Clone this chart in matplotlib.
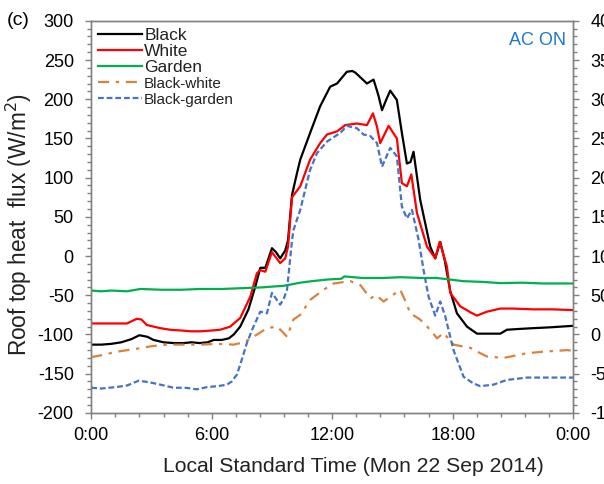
import matplotlib
matplotlib.use("Agg")
import matplotlib.pyplot as plt
from matplotlib.ticker import MultipleLocator, AutoMinorLocator, FixedLocator

plt.rcParams['font.family'] = ['Liberation Sans', 'DejaVu Sans']
plt.rcParams['axes.unicode_minus'] = False

# ---- data (hours of day, W/m2) ----
t_black = [0, 0.5, 1.0, 1.5, 2.0, 2.4, 2.8, 3.1, 3.6, 4.1, 4.6, 5.0, 5.4, 5.8, 6.1, 6.5, 6.85, 7.1,
           7.42, 7.83, 8.17, 8.42, 8.67, 9.0, 9.2, 9.41, 9.66, 9.8, 10.0, 10.24, 10.41, 10.9, 11.4,
           11.9, 12.24, 12.5, 12.73, 13.0, 13.15, 13.4, 13.73, 14.06, 14.3, 14.48, 14.7, 14.89,
           15.22, 15.47, 15.72, 15.9, 16.05, 16.38, 16.88, 17.13, 17.38, 17.6, 17.88, 18.21, 18.71,
           19.21, 19.8, 20.37, 20.7, 21.3, 22.0, 22.8, 23.4, 24.0]
v_black = [-113, -113, -112, -110, -106, -101, -103, -107, -110, -111, -111, -110, -111, -110, -107,
           -107, -105, -100, -90, -68, -39, -15, -15, 10, 5, -3, 7, 20, 78, 105, 123, 157, 191, 216,
           220, 228, 235, 236, 234, 228, 220, 225, 205, 186, 200, 211, 199, 157, 118, 120, 133, 72,
           12, -3, 18, -5, -45, -73, -90, -99, -99, -99, -94, -93, -92, -91, -90, -89]

t_white = [0, 1.0, 1.78, 2.27, 2.5, 2.77, 3.44, 3.93, 4.5, 5.0, 5.43, 6.0, 6.42, 6.92, 7.42, 7.92,
           8.25, 8.42, 8.67, 9.0, 9.41, 9.66, 9.8, 10.0, 10.41, 10.9, 11.4, 11.74, 12.24, 12.65,
           13.23, 13.73, 14.03, 14.23, 14.39, 14.6, 14.81, 15.22, 15.47, 15.72, 15.94, 16.22, 16.72,
           17.13, 17.35, 17.71, 17.88, 18.37, 18.9, 19.21, 19.7, 20.37, 21.0, 22.0, 23.0, 24.0]
v_white = [-86, -86, -86, -80, -81, -88, -92, -94, -95, -96, -96, -95, -94, -90, -79, -52, -22, -18,
           -20, 5, -9, -3, 12, 75, 89, 123, 144, 155, 159, 167, 169, 167, 182, 165, 144, 155, 166,
           150, 93, 89, 104, 55, 12, -3, 18, -13, -47, -64, -72, -76, -71, -67, -67, -68, -68, -69]

t_garden = [0, 0.5, 1.0, 1.78, 2.45, 3.5, 4.5, 5.43, 6.5, 7.5, 8.5, 9.0, 9.58, 10.0, 10.41, 11.0,
            11.74, 12.05, 12.45, 12.6, 13.5, 14.5, 15.4, 16.5, 17.2, 17.88, 18.5, 19.5, 20.37,
            21.5, 22.5, 23.85, 24.0]
v_garden = [-44, -45, -44, -45, -42, -43, -43, -42, -42, -41, -40, -39, -38, -36, -34, -32, -30,
            -29.5, -29, -26, -28, -28, -27, -28, -28, -30, -32, -33, -34.5, -34, -35, -35, -35]

# differences, read on the right-hand axis
t_bw = [0, 0.6, 1.28, 2.45, 3.0, 3.77, 4.5, 5.43, 6.3, 7.09, 7.6, 8.08, 8.75, 9.25, 9.5, 9.75, 10.07,
        10.41, 10.9, 11.57, 12.07, 12.9, 13.4, 13.9, 14.2, 14.56, 15.0, 15.39, 15.6, 15.89, 16.38,
        16.88, 17.22, 17.55, 18.04, 18.87, 19.3, 19.7, 20.53, 21.1, 21.7, 22.5, 23.7, 24.0]
v_bw = [-29, -26, -22, -17.5, -15, -13, -13, -13, -12, -13, -10, -3, 8, 10, 4, -3, 19, 25, 44, 57,
        65, 68, 63, 46, 50, 42, 50, 57, 45, 27, 19, 6, -5, 2, -13, -17, -23, -28, -30, -27, -24,
        -22, -20, -21]

t_bg = [0, 0.5, 1.28, 1.8, 2.36, 2.9, 3.44, 4.1, 4.7, 5.26, 5.8, 6.3, 6.76, 7.0, 7.26, 7.5, 7.75,
        8.08, 8.42, 8.75, 9.0, 9.41, 9.58, 9.75, 10.0, 10.07, 10.41, 10.9, 11.24, 11.74, 12.4,
        12.73, 13.23, 13.56, 13.9, 14.23, 14.48, 14.89, 15.22, 15.47, 15.72, 15.97, 16.3, 16.55,
        16.8, 17.13, 17.38, 17.63, 18.04, 18.54, 19.0, 19.37, 20.03, 20.7, 21.7, 22.7, 23.85, 24.0]
v_bg = [-68, -69, -67, -65, -59, -61, -64, -68, -68, -70, -67, -66, -64, -60, -51, -32, -11, 10,
        29, 27, 53, 38, 45, 57, 120, 133, 159, 210, 231, 246, 257, 266, 263, 255, 253, 244, 214,
        238, 227, 163, 148, 159, 121, 82, 48, 24, 42, 23, -20, -54, -62, -66, -64, -58, -55, -55,
        -55, -55]

x_ticks = [0, 6, 12, 18, 24]
x_labels = ["0:00", "6:00", "12:00", "18:00", "0:00"]

# ---- figure ----
fig = plt.figure(figsize=(6.04, 4.84), dpi=100)
ax = fig.add_axes([0.151, 0.147, 0.798, 0.810])
ax2 = ax.twinx()

spine_c = '#808080'
for a in (ax, ax2):
    for s in a.spines.values():
        s.set_color(spine_c)
        s.set_linewidth(1.0)

h1, = ax.plot(t_black, v_black, color='black', lw=1.6, label='Black')
h2, = ax.plot(t_white, v_white, color='#ff0000', lw=1.6, label='White')
h3, = ax.plot(t_garden, v_garden, color='#00b050', lw=1.6, label='Garden')
h4, = ax2.plot(t_bw, v_bw, color='#d9823f', lw=1.6, linestyle=(0, (5, 3, 1.5, 3)), label='Black-white')
h5, = ax2.plot(t_bg, v_bg, color='#4472c4', lw=1.6, linestyle=(0, (2.6, 1.3)), label='Black-garden')

ax.set_xlim(0, 24)
ax.set_ylim(-200, 300)
ax2.set_ylim(-100, 400)

ax.xaxis.set_major_locator(FixedLocator(x_ticks))
ax.set_xticklabels(x_labels)
ax.xaxis.set_minor_locator(AutoMinorLocator(5))
ax.yaxis.set_major_locator(MultipleLocator(50))
ax.yaxis.set_minor_locator(MultipleLocator(10))
ax2.yaxis.set_major_locator(MultipleLocator(50))
ax2.yaxis.set_minor_locator(MultipleLocator(10))

ax.tick_params(axis='both', which='major', direction='out', length=4.5, width=1.0,
               color=spine_c, labelsize=13, top=False)
ax.tick_params(axis='y', which='both', pad=8)
ax.tick_params(axis='x', which='major', pad=6)
ax.tick_params(axis='both', which='minor', direction='out', length=3, width=1.0, color=spine_c, top=False)
ax2.tick_params(axis='y', which='major', direction='out', length=4.5, width=1.0, color=spine_c,
                labelsize=13, pad=8)
ax2.tick_params(axis='y', which='minor', direction='out', length=3, width=1.0, color=spine_c)

ax.set_xlabel('Local Standard Time (Mon 22 Sep 2014)', fontsize=15.2, color='#222222')
ax.xaxis.set_label_coords(0.544, -0.113)
ax.set_ylabel('Roof top heat  flux (W/m$^2$)', fontsize=16.3, color='#222222')
ax.yaxis.set_label_coords(-0.118, 0.48)

fig.text(0.012, 0.958, '(c)', fontsize=14, ha='left', va='center')
ax.text(0.985, 0.95, 'AC ON', transform=ax.transAxes, fontsize=13, color='#1f78c8',
        ha='right', va='center')

leg = ax2.legend(handles=[h1, h2, h3, h4, h5], loc='upper left', frameon=False, fontsize=12.5,
                 handlelength=2.5, handletextpad=0.15, labelspacing=0.05, borderaxespad=0.1,
                 borderpad=0.3)
for txt in leg.get_texts():
    txt.set_color('#222222')
for txt in leg.get_texts()[3:]:
    txt.set_fontsize(11)

fig.savefig('out.png', dpi=100)
